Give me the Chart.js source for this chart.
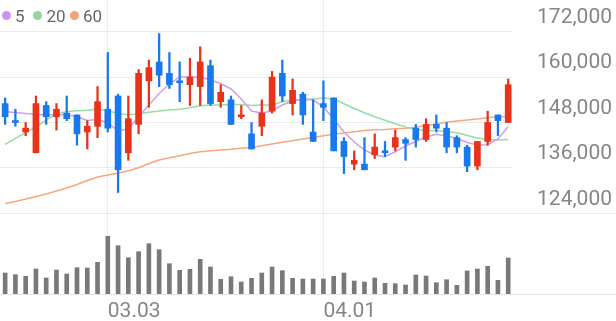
<!DOCTYPE html>
<html lang="ko">
<head>
<meta charset="UTF-8">
<title>Daily candles</title>
<style>
  body { margin: 0; background: #fff; }
  #wrap { position: relative; width: 616px; height: 321px; }
  .lg { position: absolute; font: 17px Roboto, sans-serif; line-height: 20px; color: #666; top: 6px; }
  .dot { position: absolute; top: 11px; width: 9px; height: 9px; border-radius: 50%; }
</style>
</head>
<body>
<div id="wrap">
  <canvas id="chart" width="616" height="321"></canvas>
  <span class="dot" style="left:2px;background:#cf94ea"></span><span class="lg" style="left:15px">5</span>
  <span class="dot" style="left:33px;background:#92d89c"></span><span class="lg" style="left:46.5px">20</span>
  <span class="dot" style="left:69.5px;background:#f8a27b"></span><span class="lg" style="left:83px">60</span>
</div>
<script src="https://cdn.jsdelivr.net/npm/chart.js"></script>
<script>
// trading days
var dates = ['02.16','02.17','02.18','02.19','02.22','02.23','02.24','02.25','02.26','03.02',
             '03.03','03.04','03.05','03.08','03.09','03.10','03.11','03.12','03.15','03.16',
             '03.17','03.18','03.19','03.22','03.23','03.24','03.25','03.26','03.29','03.30',
             '03.31','04.01','04.02','04.05','04.06','04.07','04.08','04.09','04.12','04.13',
             '04.14','04.15','04.16','04.19','04.20','04.21','04.22','04.23','04.26','04.27'];
var shownDates = ['03.03', '04.01'];

var opens  = [153000,148500,145500,140000,152500,149500,150500,150000,145500,147000,
              151500,155000,140000,147500,159000,164000,161000,159000,158000,157500,
              163000,153500,154000,149500,145000,147000,151000,161000,153000,155500,
              145500,153000,154500,143000,137000,137000,139500,140500,141500,143500,
              146500,143500,147500,146500,144000,141500,136500,143000,150000,148000];
var highs  = [154500,151500,148000,155000,153500,153000,155000,150000,148500,157500,
              166500,155500,155000,162000,164500,171500,166500,164000,165000,168000,
              164500,158000,155000,152500,148000,154000,161500,164500,159500,156000,
              154000,159000,154500,144000,140500,144000,145000,143000,146000,144000,
              147500,149000,150000,148000,144500,142000,143000,151000,150000,159500];
var lows   = [147500,147000,144500,140000,147500,146000,148500,142000,141000,144000,
              145500,129500,138000,145000,152000,157500,157000,153500,152500,152500,
              152500,152000,147500,149000,141000,144500,150500,153500,150000,147500,
              143000,148500,140500,134500,135500,135500,138500,139000,140500,138000,
              141500,143000,145500,140000,140000,135000,135500,142000,144500,148000];
var closes = [149500,148000,146500,153000,149500,151500,149000,145000,147000,153500,
              146500,135500,149000,161000,162500,160500,158000,158500,160000,164000,
              153000,156000,147500,150000,141000,150500,160000,155000,156500,150000,
              143000,152000,140500,139000,138000,135500,141500,140000,144000,142500,
              143500,147500,146500,141500,141500,136500,143000,148000,148500,158000];

var ma5  = [150860,150640,150380,150120,149980,150120,149980,149590,148530,148790,
            147950,145760,146420,149460,152630,155670,158180,160030,160030,160030,
            159230,158310,156860,154210,151040,150510,151040,152630,153680,154210,
            153950,152100,148930,145490,142850,140730,139410,138960,140280,141790,
            142980,144170,144880,144430,143830,142720,142050,142130,143640,146890];
var ma20 = [142240,143830,145410,146810,148660,150250,150910,151120,151230,151490,
            151170,150330,150040,150250,150700,151040,151310,151490,151910,152440,
            152630,152630,152760,152760,152490,152630,152630,153500,153950,153950,
            154210,154480,154210,152970,151700,150570,149530,148580,147660,146810,
            146150,145940,145810,145570,145280,144570,143910,143480,143380,143510];
var ma60 = [126590,127120,127780,128440,129100,129900,130690,131620,132670,133600,
            134130,134580,135260,136060,137170,138090,138700,139230,139810,140280,
            140550,140730,140920,141180,141390,141870,142320,142770,143190,143640,
            144040,144510,144880,145230,145540,145890,146100,146150,146360,146500,
            146730,147210,147610,148050,148400,148660,148930,149270,149530,149590];

var volumes = [210,193,177,250,160,240,200,263,260,317,
               577,483,363,423,503,443,303,237,247,347,
               270,147,173,120,157,210,270,233,157,150,
               150,150,177,210,130,120,160,107,103,90,
               190,180,113,143,87,230,250,277,137,360];

var priceTicks = [124000, 136000, 148000, 160000, 172000];

var UP = '#ea311a', DOWN = '#1878ee';
function candleColor(ctx) {
    var i = ctx.dataIndex;
    return closes[i] >= opens[i] ? UP : DOWN;
}

// 10 empty slots on the right side of the axis
var labels = dates.concat(['', '', '', '', '', '', '', '', '', '']);

new Chart(document.getElementById('chart'), {
    type: 'bar',
    data: {
        labels: labels,
        datasets: [
            {
                label: 'body',
                data: opens.map(function (o, i) { return [o, closes[i]]; }),
                backgroundColor: candleColor,
                barThickness: 6,
                minBarLength: 2,
                grouped: false,
                yAxisID: 'y',
                order: 0
            },
            {
                label: 'wick',
                data: lows.map(function (l, i) { return [l, highs[i]]; }),
                backgroundColor: candleColor,
                barThickness: 1.6,
                grouped: false,
                yAxisID: 'y',
                order: 1
            },
            { type: 'line', label: '5', data: ma5, borderColor: '#d49cee', borderWidth: 1.5, pointRadius: 0, yAxisID: 'y', order: 2 },
            { type: 'line', label: '20', data: ma20, borderColor: '#9adca3', borderWidth: 1.5, pointRadius: 0, yAxisID: 'y', order: 3 },
            { type: 'line', label: '60', data: ma60, borderColor: '#f9a680', borderWidth: 1.5, pointRadius: 0, yAxisID: 'y', order: 4 },
            {
                label: 'volume',
                data: volumes,
                backgroundColor: '#797979',
                barThickness: 4,
                grouped: false,
                yAxisID: 'v',
                order: 5
            }
        ]
    },
    options: {
        responsive: false,
        animation: false,
        layout: { padding: 0 },
        plugins: { legend: { display: false }, tooltip: { enabled: false } },
        scales: {
            x: {
                offset: true,
                grid: {
                    offset: false,
                    drawTicks: false,
                    color: function (ctx) { return ctx.tick && ctx.tick.label ? '#ededed' : 'rgba(0,0,0,0)'; }
                },
                border: { display: true, color: '#e6e6e6' },
                ticks: {
                    autoSkip: false,
                    maxRotation: 0,
                    align: 'start',
                    padding: 5,
                    color: '#868686',
                    font: { family: 'Roboto', size: 21 },
                    callback: function (v, i) { return shownDates.indexOf(labels[i]) >= 0 ? labels[i] : ''; }
                },
                afterFit: function (s) { s.height = 27; s.paddingLeft = 0; s.paddingRight = 0; }
            },
            y: {
                position: 'right',
                min: 102674,
                max: 180378,
                grid: { drawTicks: false, color: '#ececec' },
                border: { display: false },
                afterBuildTicks: function (s) {
                    s.ticks = priceTicks.map(function (v) { return { value: v }; });
                },
                afterFit: function (s) { s.width = 0; s.paddingTop = 0; s.paddingBottom = 0; },
                ticks: {
                    mirror: true,
                    padding: -4,
                    labelOffset: -14,
                    color: '#868686',
                    font: { family: 'Roboto', size: 21 },
                    showLabelBackdrop: true,
                    backdropColor: function (ctx) { return ctx.tick && ctx.tick.value === 124000 ? 'rgba(0,0,0,0)' : '#ffffff'; },
                    backdropPadding: { top: 1, bottom: 4, left: 24, right: 8 },
                    callback: function (v) { return v.toLocaleString('en-US'); }
                }
            },
            v: {
                display: false,
                min: 0,
                max: 2940
            }
        }
    }
});
</script>
</body>
</html>
